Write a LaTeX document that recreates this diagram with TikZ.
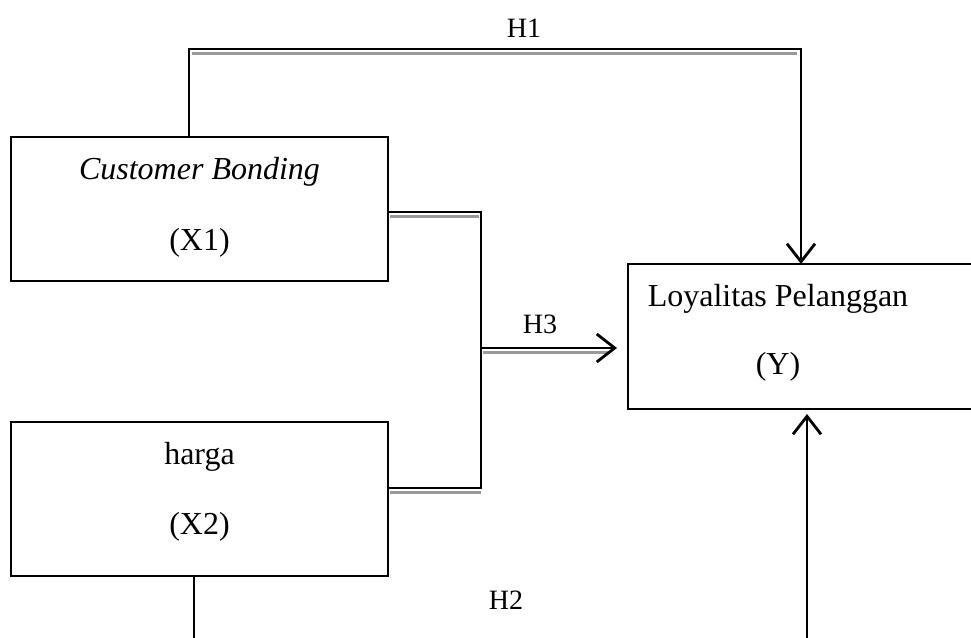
\documentclass[tikz,border=0pt]{standalone}
\usepackage{fontspec}
\setmainfont{Liberation Serif}
\usetikzlibrary{arrows.meta}
\begin{document}
\begin{tikzpicture}[x=1pt,y=-1pt,
  box/.style={draw, line width=2.8pt, inner sep=0pt},
  conn/.style={line width=2.8pt, black},
  shade/.style={line width=2.5pt, black!40},
  arr/.style={-{Straight Barb[length=18pt,width=28pt,line width=2.8pt]}},
  lbl/.style={font=\fontsize{32}{38}\selectfont, anchor=base, inner sep=0pt},
  hlbl/.style={font=\fontsize{28}{32}\selectfont, anchor=base, inner sep=0pt}]
\useasboundingbox (0,0) rectangle (971,637);
\clip (0,0) rectangle (971,637);
% boxes
\node[box, minimum width=377pt, minimum height=144pt] (x1) at (199.5,209) {};
\node[box, minimum width=377pt, minimum height=154pt] (x2) at (199.5,499) {};
\node[box, minimum width=372pt, minimum height=145pt] (y) at (814,336.5) {};
% texts
\node[lbl] (t1a) at (199.5,179) {\textit{Customer Bonding}};
\node[lbl] (t1b) at (199.5,250) {(X1)};
\node[lbl] (t2a) at (199.5,464) {harga};
\node[lbl] (t2b) at (199.5,534) {(X2)};
\node[lbl] (tya) at (778,306) {Loyalitas Pelanggan};
\node[lbl] (tyb) at (778,374) {(Y)};
% H1
\coordinate (h1s) at (189,137);
\coordinate (h1a) at (189,49);
\coordinate (h1b) at (801,49);
\coordinate (h1e) at (801,264);
\draw[shade] (192,53.5) -- (797,53.5);
\draw[conn, arr] (h1s) -- (h1a) -- (h1b) -- (h1e);
\node[hlbl] (lh1) at (524,37) {H1};
% H3
\coordinate (h3a) at (388,212);
\coordinate (h3b) at (481,212);
\coordinate (h3c) at (481,488);
\coordinate (h3d) at (388,488);
\coordinate (h3m) at (481,348);
\coordinate (h3e) at (617,348);
\draw[shade] (390,216.5) -- (479,216.5);
\draw[shade] (390,492.5) -- (481,492.5);
\draw[shade] (483,352.5) -- (610,352.5);
\draw[conn] (h3a) -- (h3b) -- (h3c) -- (h3d);
\draw[conn, arr] (h3m) -- (h3e);
\node[hlbl] (lh3) at (540,333) {H3};
% H2
\coordinate (h2s) at (194,576);
\coordinate (h2a) at (194,640);
\coordinate (h2b) at (807,640);
\coordinate (h2e) at (807,414);
\draw[conn] (h2s) -- (h2a);
\draw[conn, arr] (h2b) -- (h2e);
\node[hlbl] (lh2) at (506,609) {H2};
\end{tikzpicture}
\end{document}
